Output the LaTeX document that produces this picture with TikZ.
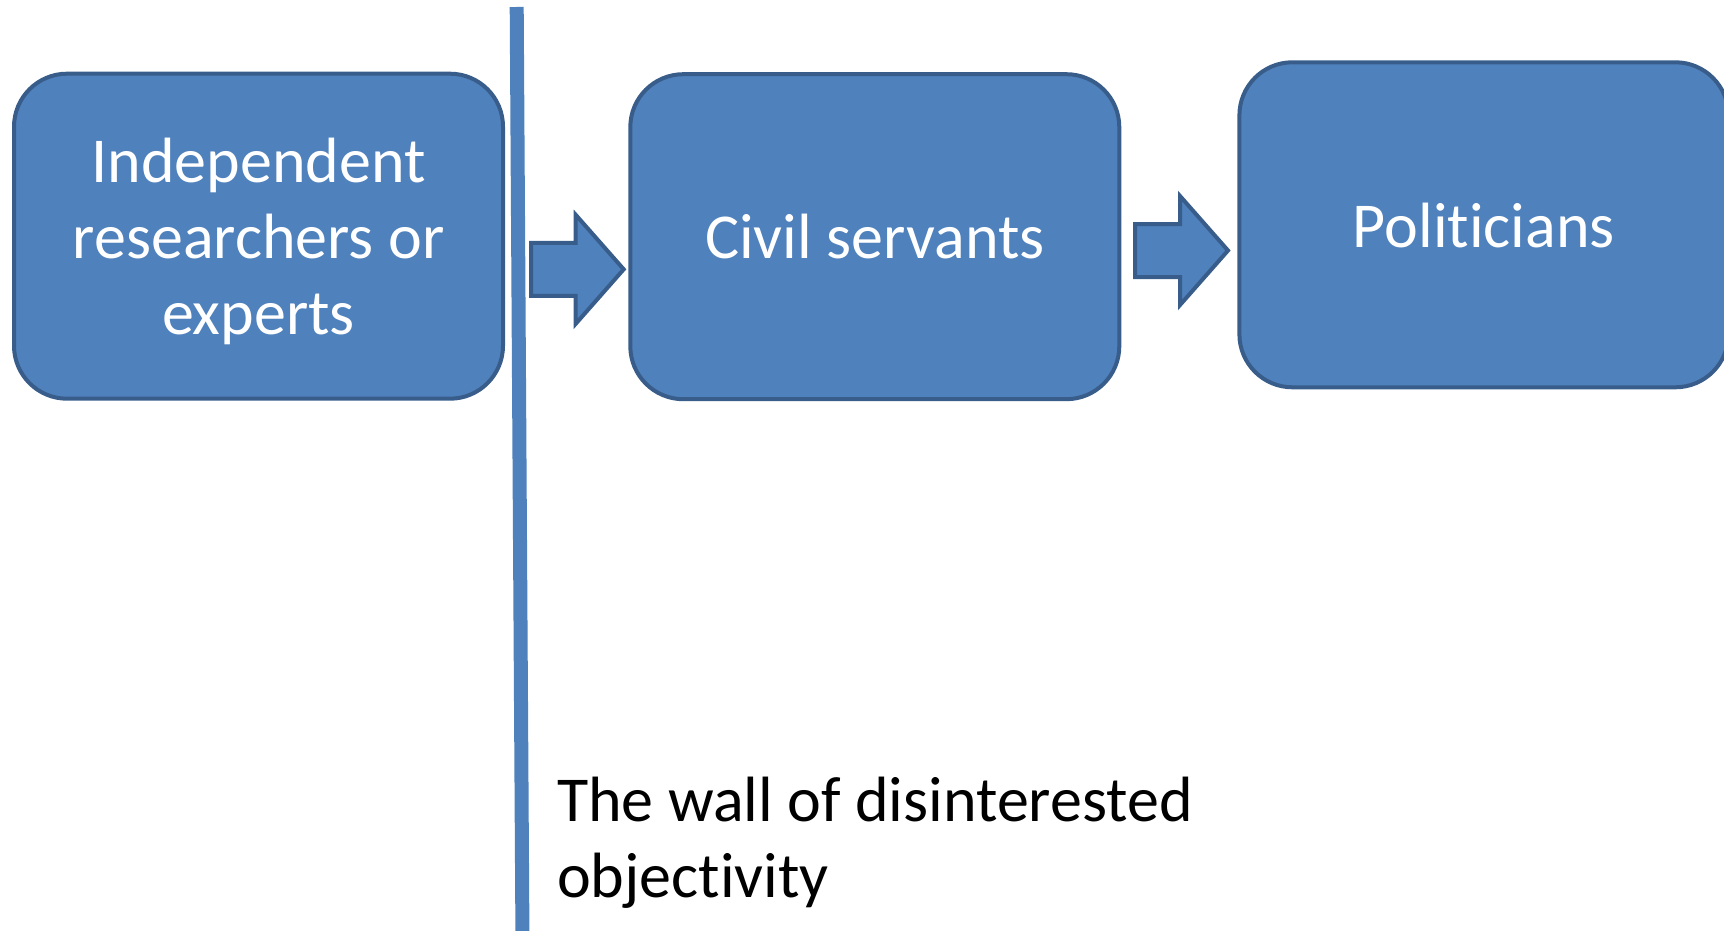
\documentclass[tikz,border=0pt]{standalone}
\usepackage{fontspec}
\setmainfont[Ligatures=NoCommon]{Carlito}
\usetikzlibrary{calc}
\definecolor{boxfill}{HTML}{4F81BD}
\definecolor{boxline}{HTML}{385D8A}
\begin{document}
\begin{tikzpicture}[x=0.5pt,y=-0.5pt,
  stage/.style={draw=boxline, fill=boxfill, line width=2pt, rounded corners=26.5pt,
    minimum width=244.5pt, minimum height=162.5pt, inner sep=0pt, outer sep=0pt},
  stagetext/.style={text=white, font=\fontsize{32}{38}\selectfont, align=center, inner sep=0pt},
  arrowbody/.style={draw=boxline, fill=boxfill, line width=2pt, line join=miter},
  wall/.style={draw=boxfill, line width=7pt},
  walllabel/.style={text=black, font=\fontsize{32}{38}\selectfont, align=left, inner sep=0pt}]
\useasboundingbox (0,0) rectangle (1724,931);

% the wall
\coordinate (walltop) at (516.7,7);
\coordinate (wallbot) at (522.5,945);
\draw[wall] (walltop) -- (wallbot);

% the three stages
\node[stage] (b1) at (258.5,236.2) {};
\node[stage] (b2) at (874.8,236.7) {};
\node[stage] (b3) at (1483.9,224.8) {};

\node[stagetext] (t1) at ($(b1.center)+(0,7)$) {\strut Independent\\researchers or\\experts\strut};
\node[stagetext] (t2) at ($(b2.center)+(0,7)$) {\strut Civil servants\strut};
\node[stagetext] (t3) at ($(b3.center)+(0,7)$) {\strut Politicians\strut};

% block arrows between the stages
\coordinate (a1tip) at ($(b2.west)+(-6.6,32.6)$);
\draw[arrowbody] (a1tip) -- ++(-48,-54.5) -- ++(0,28) -- ++(-44.5,0) -- ++(0,53)
  -- ++(44.5,0) -- ++(0,28) -- cycle;
\coordinate (a2tip) at ($(b3.west)+(-11.4,25.7)$);
\draw[arrowbody] (a2tip) -- ++(-48,-54.5) -- ++(0,28) -- ++(-45,0) -- ++(0,53)
  -- ++(45,0) -- ++(0,28) -- cycle;

% caption of the wall
\node[walllabel, anchor=north west] (wl) at (556.6,767.8)
  {\strut The wall of disinterested\\objectivity\strut};
\end{tikzpicture}
\end{document}
